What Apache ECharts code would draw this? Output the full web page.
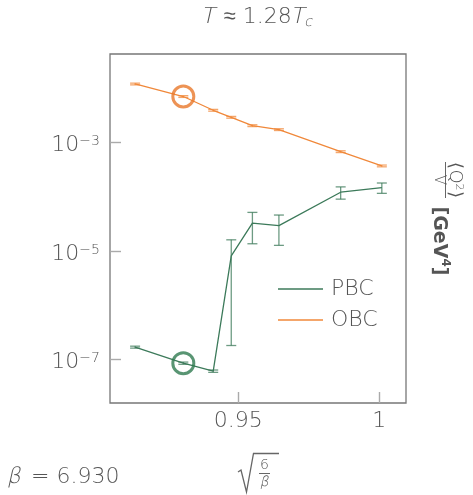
<!DOCTYPE html>
<html>
<head>
<meta charset="utf-8">
<script src="https://cdn.jsdelivr.net/npm/echarts@6/dist/echarts.min.js"></script>
<style>
  html, body { margin: 0; padding: 0; background: #fff; }
  #chart { width: 473px; height: 495px; }
</style>
</head>
<body>
<div id="chart"></div>
<script>
// sqrt(6/beta) for each ensemble
const sqrtSixOverBeta = [0.9134, 0.9305, 0.9411, 0.9475, 0.9550, 0.9644, 0.9863, 1.0009];
// <Q^2>/V in GeV^4, periodic boundary conditions
const pbcValues = [1.68e-7, 8.5e-8, 6.05e-8, 8.13e-6, 3.26e-5, 2.94e-5, 1.216e-4, 1.479e-4];
const pbcErrors = [7e-9, 4e-9, 3e-9, 7.95e-6, 1.9e-5, 1.67e-5, 3.1e-5, 3.2e-5];
// <Q^2>/V in GeV^4, open boundary conditions
const obcValues = [1.21e-2, 7.11e-3, 3.96e-3, 2.94e-3, 2.06e-3, 1.74e-3, 6.82e-4, 3.72e-4];
const obcErrors = [4.5e-4, 2.7e-4, 1.5e-4, 1.1e-4, 8e-5, 6.5e-5, 2.6e-5, 1.4e-5];
// axis ticks
const xTickValues = [0.95, 1];
const yTickValues = [1e-7, 1e-5, 1e-3];
// highlighted ensemble
const markedBeta = 6.930;

const GREEN = '#3c7a5a';
const GREEN_DARK = '#2f7a50';
const ORANGE = '#f0883a';
const ORANGE_DARK = '#e8782a';
const TEXT = '#555';
const FONT = '"DejaVu Sans", sans-serif';
const LIGHT = 200;
const SLANT = -0.22; // shear used for the thin math italics

const markedX = Math.sqrt(6 / markedBeta);
let markedIndex = 0;
sqrtSixOverBeta.forEach((x, i) => {
  if (Math.abs(x - markedX) < Math.abs(sqrtSixOverBeta[markedIndex] - markedX)) markedIndex = i;
});

const pairs = (vals) => sqrtSixOverBeta.map((x, i) => [x, vals[i]]);
const triples = (vals, errs) => sqrtSixOverBeta.map((x, i) => [x, vals[i], errs[i]]);

function errorBars(color) {
  return function (params, api) {
    const x = api.value(0), y = api.value(1), e = api.value(2);
    const top = api.coord([x, y + e]);
    const bot = api.coord([x, y - e]);
    const half = 5;
    const style = { stroke: color, lineWidth: 1.3, opacity: 0.75 };
    return {
      type: 'group',
      children: [
        { type: 'line', shape: { x1: top[0], y1: top[1], x2: bot[0], y2: bot[1] }, style },
        { type: 'line', shape: { x1: top[0] - half, y1: top[1], x2: top[0] + half, y2: top[1] }, style },
        { type: 'line', shape: { x1: bot[0] - half, y1: bot[1], x2: bot[0] + half, y2: bot[1] }, style }
      ]
    };
  };
}

// text fragment style for rich labels
function frag(size, extra) {
  return Object.assign({ fontSize: size, fontFamily: FONT, fontWeight: LIGHT, fill: TEXT, color: TEXT }, extra || {});
}

// lay out a run of text pieces left to right; slanted pieces imitate thin italics
const measureCtx = document.createElement('canvas').getContext('2d');
function textWidth(str, size) {
  measureCtx.font = LIGHT + ' ' + size + 'px "DejaVu Sans"';
  return measureCtx.measureText(str).width;
}
function textRun(pieces, x, y, anchor) {
  const widths = pieces.map(p => textWidth(p.text, p.size));
  const total = widths.reduce((a, b) => a + b, 0);
  let cx = anchor === 'center' ? x - total / 2 : x;
  return pieces.map((p, i) => {
    const el = {
      type: 'text', x: cx, y: y + (p.dy || 0),
      skewX: p.slant ? SLANT : 0,
      style: {
        text: p.text, align: 'left', verticalAlign: 'middle',
        fill: TEXT, fontSize: p.size, fontFamily: FONT, fontWeight: LIGHT
      }
    };
    cx += widths[i] + (p.gap || 0);
    return el;
  });
}

const chart = echarts.init(document.getElementById('chart'), null, { renderer: 'canvas' });

chart.setOption({
  animation: false,
  grid: {
    left: 110, top: 54, right: 67, bottom: 92,
    show: true, borderColor: '#777', borderWidth: 1.3, backgroundColor: 'transparent'
  },
  xAxis: {
    type: 'value',
    min: 0.9045, max: 1.00947,
    splitLine: { show: false },
    axisLine: { show: false },
    axisTick: { show: true, inside: true, length: 11, lineStyle: { color: '#aaa', width: 1.4 }, customValues: xTickValues },
    axisLabel: {
      customValues: xTickValues,
      margin: 7,
      color: TEXT, fontSize: 22, fontFamily: FONT, fontWeight: LIGHT,
      formatter: (v) => String(+v.toFixed(2))
    }
  },
  yAxis: {
    type: 'log',
    logBase: 10,
    min: Math.pow(10, -7.806), max: Math.pow(10, -1.3635),
    splitLine: { show: false },
    axisLine: { show: false },
    axisTick: { show: true, inside: true, length: 11, lineStyle: { color: '#aaa', width: 1.4 }, customValues: yTickValues },
    axisLabel: {
      customValues: yTickValues,
      margin: 10,
      padding: [6, 0, 0, 0],
      color: TEXT, fontFamily: FONT,
      formatter: (v) => '{b|10}{s|\u2212' + Math.round(-Math.log10(v)) + '}',
      rich: {
        b: frag(22, { lineHeight: 22, verticalAlign: 'bottom' }),
        s: frag(14, { lineHeight: 14, verticalAlign: 'top', padding: [0, 0, 14, 0] })
      }
    }
  },
  legend: {
    orient: 'vertical',
    left: 278, top: 278,
    padding: 0,
    icon: 'rect',
    itemWidth: 45, itemHeight: 1.3, itemGap: 9,
    textStyle: { fontSize: 22, lineHeight: 22, color: TEXT, fontFamily: FONT, fontWeight: LIGHT, padding: [0, 0, 0, 3] },
    data: ['PBC', 'OBC']
  },
  series: [
    {
      name: 'PBC', type: 'line', data: pairs(pbcValues),
      symbol: 'none', color: GREEN, lineStyle: { color: GREEN, width: 1.3 }, z: 3
    },
    {
      name: 'OBC', type: 'line', data: pairs(obcValues),
      symbol: 'none', color: ORANGE, lineStyle: { color: ORANGE, width: 1.3 }, z: 3
    },
    {
      name: 'PBC errors', type: 'custom', data: triples(pbcValues, pbcErrors),
      renderItem: errorBars(GREEN), z: 4, silent: true
    },
    {
      name: 'OBC errors', type: 'custom', data: triples(obcValues, obcErrors),
      renderItem: errorBars(ORANGE), z: 4, silent: true
    },
    {
      name: 'marked', type: 'scatter', symbol: 'circle', symbolSize: 21, z: 5, silent: true,
      data: [
        { value: [sqrtSixOverBeta[markedIndex], pbcValues[markedIndex]], itemStyle: { color: 'rgba(0,0,0,0)', borderColor: GREEN_DARK, borderWidth: 3 } },
        { value: [sqrtSixOverBeta[markedIndex], obcValues[markedIndex]], itemStyle: { color: 'rgba(0,0,0,0)', borderColor: ORANGE_DARK, borderWidth: 3 } }
      ]
    }
  ],
  graphic: [].concat(
    // title: T ≈ 1.28 T_c
    textRun([
      { text: 'T', size: 22, slant: true, gap: 1 },
      { text: ' \u2248 1.28', size: 22 },
      { text: 'T', size: 22, slant: true },
      { text: 'c', size: 14, slant: true, dy: 5 }
    ], 257, 17, 'center'),
    // beta label
    textRun([
      { text: '\u03b2', size: 22, slant: true, gap: 2 },
      { text: ' = ' + markedBeta.toFixed(3), size: 22 }
    ], 8, 477, 'left'),
    // x axis title: sqrt(6/beta)
    [
      {
        type: 'polyline',
        shape: { points: [[238, 472], [241, 470], [246.5, 492], [253.5, 453.5], [279, 453.5]] },
        style: { stroke: '#666', lineWidth: 1.3, fill: null }
      },
      {
        type: 'text', x: 264.5, y: 465,
        style: { text: '6', align: 'center', verticalAlign: 'middle', fontSize: 14, fontFamily: FONT, fontWeight: LIGHT, fill: TEXT }
      },
      {
        type: 'line', shape: { x1: 259, y1: 473.5, x2: 270, y2: 473.5 },
        style: { stroke: '#666', lineWidth: 1 }
      },
      {
        type: 'text', x: 265, y: 482, skewX: SLANT,
        style: { text: '\u03b2', align: 'center', verticalAlign: 'middle', fontSize: 14, fontFamily: FONT, fontWeight: LIGHT, fill: TEXT }
      },
      // right side label: <Q^2>/V [GeV^4]
      {
        type: 'text', x: 455, y: 180, rotation: -Math.PI / 2,
        style: {
          text: '{n|\u27e8Q}{s|2}{n|\u27e9}',
          align: 'center', verticalAlign: 'middle',
          fill: TEXT, fontSize: 18, fontFamily: FONT,
          rich: {
            n: frag(18, { fontWeight: 300, lineHeight: 18, verticalAlign: 'bottom' }),
            s: frag(11, { fontWeight: 300, lineHeight: 11, verticalAlign: 'top' })
          }
        }
      },
      {
        type: 'line', shape: { x1: 445.5, y1: 162, x2: 445.5, y2: 198 },
        style: { stroke: '#666', lineWidth: 1 }
      },
      {
        type: 'text', x: 438.5, y: 180, rotation: -Math.PI / 2,
        style: { text: 'V', align: 'center', verticalAlign: 'middle', fontSize: 15, fontFamily: FONT, fontWeight: LIGHT, fill: TEXT }
      },
      {
        type: 'text', x: 440, y: 241, rotation: -Math.PI / 2,
        style: {
          text: '{n|[GeV}{s|4}{n|]}',
          align: 'center', verticalAlign: 'middle',
          fill: TEXT, fontSize: 19, fontWeight: 'bold', fontFamily: FONT,
          rich: {
            n: frag(19, { fontWeight: 'bold', lineHeight: 22, verticalAlign: 'bottom' }),
            s: frag(12, { fontWeight: 'bold', lineHeight: 12, verticalAlign: 'top' })
          }
        }
      }
    ]
  )
});
</script>
</body>
</html>
